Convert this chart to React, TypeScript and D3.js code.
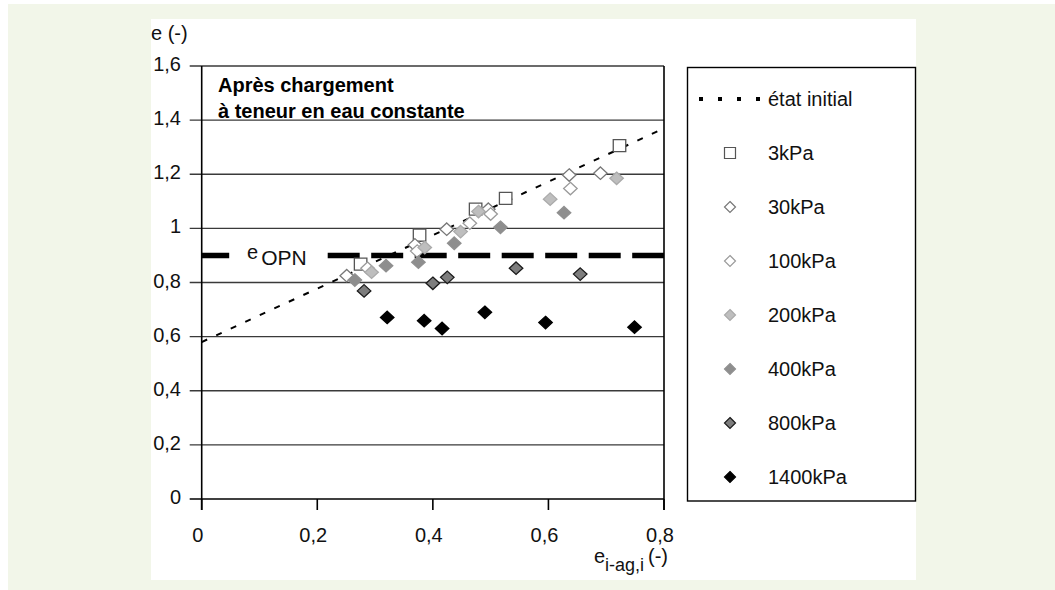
import React from "react";
import * as d3 from "d3";

const xTicks = [0, 0.2, 0.4, 0.6, 0.8];
const xTickLabels = ["0", "0,2", "0,4", "0,6", "0,8"];
const yTicks = [0, 0.2, 0.4, 0.6, 0.8, 1, 1.2, 1.4, 1.6];
const yTickLabels = ["0", "0,2", "0,4", "0,6", "0,8", "1", "1,2", "1,4", "1,6"];

const etatInitial: [number, number][] = [[0, 0.58], [0.8, 1.37]];
const eOPN: [number, number][] = [[0, 0.9], [0.8, 0.9]];

const s3kPa: [number, number][] = [[0.275, 0.868], [0.377, 0.975], [0.474, 1.071], [0.526, 1.111], [0.723, 1.306]];
const s30kPa: [number, number][] = [[0.251, 0.825], [0.369, 0.939], [0.424, 0.997], [0.496, 1.071], [0.636, 1.197], [0.69, 1.204]];
const s100kPa: [number, number][] = [[0.287, 0.853], [0.373, 0.916], [0.464, 1.019], [0.5, 1.053], [0.638, 1.147]];
const s200kPa: [number, number][] = [[0.294, 0.838], [0.386, 0.929], [0.448, 0.988], [0.479, 1.062], [0.603, 1.108], [0.718, 1.185]];
const s400kPa: [number, number][] = [[0.265, 0.809], [0.319, 0.862], [0.375, 0.875], [0.437, 0.945], [0.517, 1.004], [0.627, 1.058]];
const s800kPa: [number, number][] = [[0.281, 0.769], [0.4, 0.797], [0.425, 0.819], [0.544, 0.853], [0.655, 0.831]];
const s1400kPa: [number, number][] = [[0.321, 0.671], [0.385, 0.659], [0.416, 0.63], [0.49, 0.69], [0.595, 0.652], [0.749, 0.635]];

type Series = { name: string; data: [number, number][]; shape: "square" | "diamond"; fill: string; stroke: string };
const series: Series[] = [
  { name: "3kPa", data: s3kPa, shape: "square", fill: "#ffffff", stroke: "#555555" },
  { name: "30kPa", data: s30kPa, shape: "diamond", fill: "#ffffff", stroke: "#777777" },
  { name: "100kPa", data: s100kPa, shape: "diamond", fill: "#ffffff", stroke: "#9a9a9a" },
  { name: "200kPa", data: s200kPa, shape: "diamond", fill: "#bebebe", stroke: "#aaaaaa" },
  { name: "400kPa", data: s400kPa, shape: "diamond", fill: "#8e8e8e", stroke: "#909090" },
  { name: "800kPa", data: s800kPa, shape: "diamond", fill: "#7d7d7d", stroke: "#1a1a1a" },
  { name: "1400kPa", data: s1400kPa, shape: "diamond", fill: "#000000", stroke: "#000000" },
];

const FONT = "'Liberation Sans', Arial, Helvetica, sans-serif";

function markerPath(shape: string, cx: number, cy: number, w: number, h: number) {
  if (shape === "square") {
    return `M${cx - w / 2},${cy - h / 2}h${w}v${h}h${-w}Z`;
  }
  return `M${cx},${cy - h / 2}L${cx + w / 2},${cy}L${cx},${cy + h / 2}L${cx - w / 2},${cy}Z`;
}

export default function App() {
  const x = d3.scaleLinear().domain([0, 0.8]).range([201.7, 664]);
  const y = d3.scaleLinear().domain([0, 1.6]).range([499, 66]);
  const line = d3.line<[number, number]>().x((d) => x(d[0])).y((d) => y(d[1]));

  const legendRows = ["état initial", ...series.map((s) => s.name)];
  const legendY = (i: number) => 99 + i * 54;

  return (
    <svg width={1055} height={590} style={{ position: "absolute", left: 0, top: 0 }} fontFamily={FONT}>
      <rect x={8} y={4} width={1047} height={586} fill="#f2f6e9" />
      <rect x={151} y={19} width={765} height={561} fill="#ffffff" />

      {/* gridlines and y ticks */}
      {yTicks.map((t) => (
        <line key={"g" + t} x1={x(0) - 12} x2={x(0.8)} y1={y(t)} y2={y(t)} stroke={t === 0 ? "#000" : "#3a3a3a"} strokeWidth={t === 0 ? 1.6 : 1.3} />
      ))}
      {yTicks.map((t, i) => (
        <text key={"yl" + t} x={181} y={y(t) + 5} textAnchor="end" fontSize={20} fill="#111">
          {yTickLabels[i]}
        </text>
      ))}
      {/* axes */}
      <line x1={x(0)} x2={x(0)} y1={y(1.6)} y2={y(0) + 11} stroke="#000" strokeWidth={1.6} />
      <line x1={x(0.8)} x2={x(0.8)} y1={y(1.6)} y2={y(0) + 11} stroke="#000" strokeWidth={1.6} />
      {xTicks.map((t) => (
        <line key={"xt" + t} x1={x(t)} x2={x(t)} y1={y(0)} y2={y(0) + 11} stroke="#000" strokeWidth={1.6} />
      ))}
      {xTicks.map((t, i) => (
        <text key={"xl" + t} x={x(t) - 4} y={542} textAnchor="middle" fontSize={20} fill="#111">
          {xTickLabels[i]}
        </text>
      ))}

      {/* axis titles */}
      <text x={151} y={40} fontSize={20} fill="#111">e (-)</text>
      <text x={668} y={563} textAnchor="end" fontSize={20} fill="#111">
        <tspan>e</tspan>
        <tspan dy={8} fontSize={18}>i-ag,i</tspan>
        <tspan dy={-8} dx={4}>(-)</tspan>
      </text>

      {/* annotation */}
      <text x={218} y={92} fontSize={20} fontWeight="bold" fill="#000">Après chargement</text>
      <text x={218} y={118} fontSize={20} fontWeight="bold" fill="#000">à teneur en eau constante</text>

      {/* e_OPN line */}
      <path d={line(eOPN) || ""} stroke="#000" strokeWidth={5.5} fill="none" strokeDasharray="32 11.5" strokeDashoffset={4.5} />
      <rect x={232} y={y(0.9) - 14} width={95} height={26} fill="#ffffff" />
      <text x={247} y={259} fontSize={20} fill="#111">
        <tspan>e</tspan>
        <tspan dy={6} dx={3} fontSize={21}>OPN</tspan>
      </text>

      {/* état initial line */}
      <path d={line(etatInitial) || ""} stroke="#000" strokeWidth={2} fill="none" strokeDasharray="6 10" />

      {/* markers */}
      {series.map((s) =>
        s.data.map((d, i) => (
          <path
            key={s.name + i}
            d={s.shape === "square" ? markerPath("square", x(d[0]), y(d[1]), 12.5, 12) : markerPath("diamond", x(d[0]), y(d[1]), 13.5, 12.5)}
            fill={s.fill}
            stroke={s.stroke}
            strokeWidth={1.3}
          />
        ))
      )}

      {/* legend */}
      <rect x={687.5} y={67.5} width={228} height={433.5} fill="#ffffff" stroke="#000" strokeWidth={1.4} />
      <line x1={699} x2={761} y1={legendY(0)} y2={legendY(0)} stroke="#000" strokeWidth={4} strokeDasharray="4 15" />
      {series.map((s, i) => (
        <path
          key={"lm" + s.name}
          d={markerPath(s.shape, 730, legendY(i + 1), s.shape === "square" ? 11 : 11, 11)}
          fill={s.fill}
          stroke={s.stroke}
          strokeWidth={1.2}
        />
      ))}
      {legendRows.map((r, i) => (
        <text key={"lt" + r} x={768} y={legendY(i) + 7} fontSize={20} fill="#111">
          {r}
        </text>
      ))}
    </svg>
  );
}
